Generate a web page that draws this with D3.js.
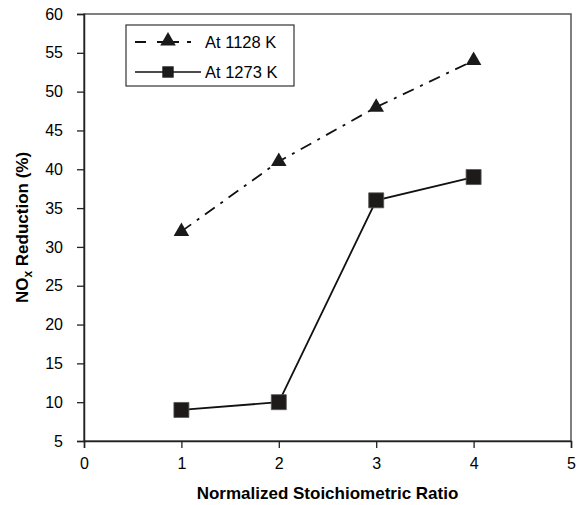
<!DOCTYPE html>
<html>
<head>
<meta charset="utf-8">
<script src="https://cdn.jsdelivr.net/npm/d3@7"></script>
<style>
  body { margin: 0; background: #fff; }
  text { font-family: "Liberation Sans", Arial, sans-serif; }
</style>
</head>
<body>
<svg width="584" height="505"></svg>
<script>
const ratio = [1, 2, 3, 4];
const at1128 = [32, 41, 48, 54];
const at1273 = [9, 10, 36, 39];
const xTicks = [0, 1, 2, 3, 4, 5];
const yTicks = [5, 10, 15, 20, 25, 30, 35, 40, 45, 50, 55, 60];

const svg = d3.select('svg');
const mLeft = 84, mRight = 571, mTop = 14, mBottom = 441;

const x = d3.scaleLinear().domain([0, 5]).range([mLeft, mRight]);
const y = d3.scaleLinear().domain([5, 60]).range([mBottom, mTop]);

// frame
svg.append('rect')
  .attr('x', mLeft).attr('y', mTop)
  .attr('width', mRight - mLeft).attr('height', mBottom - mTop)
  .attr('fill', 'none').attr('stroke', '#555').attr('stroke-width', 1.5);

const xAxis = svg.append('g')
  .attr('transform', `translate(0,${mBottom})`)
  .call(d3.axisBottom(x).tickValues(xTicks).tickFormat(d3.format('d')).tickSize(7).tickPadding(10));
const yAxis = svg.append('g')
  .attr('transform', `translate(${mLeft},0)`)
  .call(d3.axisLeft(y).tickValues(yTicks).tickFormat(d3.format('d')).tickSize(7).tickPadding(14));

[xAxis, yAxis].forEach(a => {
  a.select('.domain').attr('stroke', '#222').attr('stroke-width', 1.5);
  a.selectAll('.tick line').attr('stroke', '#222').attr('stroke-width', 1.3);
  a.selectAll('.tick text').attr('font-size', 16).attr('fill', '#000')
    .attr('font-family', '"Liberation Sans", Arial, sans-serif');
});

// axis titles
svg.append('text')
  .attr('x', (mLeft + mRight) / 2).attr('y', 499)
  .attr('text-anchor', 'middle').attr('font-size', 17).attr('font-weight', 'bold')
  .text('Normalized Stoichiometric Ratio');

const yt = svg.append('text')
  .attr('transform', `translate(28,${(mTop + mBottom) / 2}) rotate(-90)`)
  .attr('text-anchor', 'middle').attr('font-size', 17).attr('font-weight', 'bold');
yt.append('tspan').text('NO');
yt.append('tspan').text('x').attr('font-size', 12).attr('dy', 4);
yt.append('tspan').text(' Reduction (%)').attr('dy', -4);

const line = d3.line().x(d => x(d[0])).y(d => y(d[1]));
const tri = d3.symbol().type(d3.symbolTriangle).size(105);
const sq = d3.symbol().type(d3.symbolSquare).size(225);
const dash = '12,7,3,7';

const s1 = ratio.map((r, i) => [r, at1128[i]]);
const s2 = ratio.map((r, i) => [r, at1273[i]]);

svg.append('path').datum(s1).attr('d', line)
  .attr('fill', 'none').attr('stroke', '#111').attr('stroke-width', 1.8)
  .attr('stroke-dasharray', dash);
svg.append('path').datum(s2).attr('d', line)
  .attr('fill', 'none').attr('stroke', '#111').attr('stroke-width', 1.8);

svg.selectAll('.tri').data(s1).enter().append('path')
  .attr('transform', d => `translate(${x(d[0])},${y(d[1])})`)
  .attr('d', tri).attr('fill', '#1a1a1a');
svg.selectAll('.sq').data(s2).enter().append('path')
  .attr('transform', d => `translate(${x(d[0])},${y(d[1])})`)
  .attr('d', sq).attr('fill', '#1f1a1a').attr('stroke', '#555').attr('stroke-width', 0.8);

// legend
const lg = svg.append('g');
lg.append('rect').attr('x', 126).attr('y', 25).attr('width', 168).attr('height', 61)
  .attr('fill', '#fff').attr('stroke', '#333').attr('stroke-width', 1.2);
lg.append('line').attr('x1', 135).attr('x2', 199).attr('y1', 42).attr('y2', 42)
  .attr('stroke', '#111').attr('stroke-width', 1.8).attr('stroke-dasharray', '11,11,22,8,4');
lg.append('path').attr('transform', 'translate(168,41)').attr('d', tri).attr('fill', '#1a1a1a');
lg.append('text').attr('x', 205).attr('y', 48).attr('font-size', 16.5).text('At 1128 K');
lg.append('line').attr('x1', 135).attr('x2', 201).attr('y1', 72).attr('y2', 72)
  .attr('stroke', '#111').attr('stroke-width', 1.5);
lg.append('path').attr('transform', 'translate(168,72)').attr('d', d3.symbol().type(d3.symbolSquare).size(130)).attr('fill', '#1a1a1a');
lg.append('text').attr('x', 205).attr('y', 78).attr('font-size', 16.5).text('At 1273 K');
</script>
</body>
</html>
